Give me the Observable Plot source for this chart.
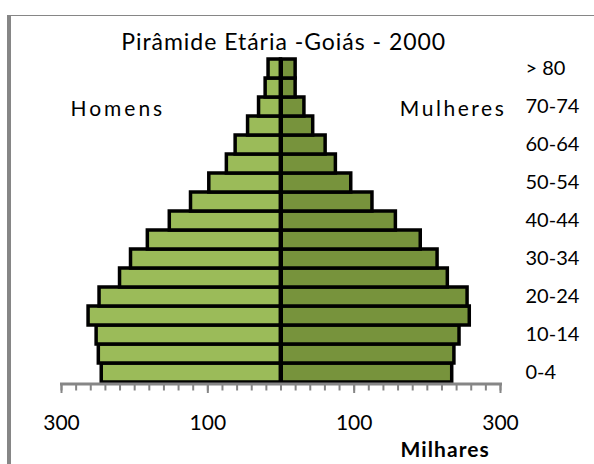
<!DOCTYPE html>
<html><head><meta charset="utf-8">
<script src="https://cdn.jsdelivr.net/npm/d3@7"></script>
<script src="https://cdn.jsdelivr.net/npm/@observablehq/plot@0.6"></script>
<style>
html,body{margin:0;padding:0;background:#fff;}
#wrap{position:relative;width:594px;height:464px;overflow:hidden;background:#fff;}
#wrap svg{position:absolute;left:0;top:0;}
.frameTop{position:absolute;left:7px;top:15px;width:587px;height:1px;background:#868686;}
.frameLeft{position:absolute;left:7px;top:15px;width:4px;height:449px;background:#868686;}
</style></head>
<body><div id="wrap"><div class="frameTop"></div><div class="frameLeft"></div></div>
<script>
const ages = ["0-4","5-9","10-14","15-19","20-24","25-29","30-34","35-39","40-44","45-49","50-54","55-59","60-64","65-69","70-74","75-79","> 80"];
const homens = [245, 249, 252, 263, 248, 220, 205, 182, 152, 123, 98, 74, 62, 45, 30, 21, 17];
const mulheres = [234, 237, 244, 258, 255, 228, 214, 191, 157, 125, 96, 75, 61, 44, 32, 20, 20];
const ageTickLabels = ["0-4","10-14","20-24","30-34","40-44","50-54","60-64","70-74","> 80"];
const xMinorTicks = d3.range(-300, 301, 20);
const xMajorTicks = [-300, -100, 100, 300];
const title = "Pirâmide Etária -Goiás - 2000";
const leftLabel = "Homens";
const rightLabel = "Mulheres";
const unitLabel = "Milhares";

const men = ages.map((age, i) => ({age, value: homens[i]}));
const women = ages.map((age, i) => ({age, value: mulheres[i]}));
const font = "Lato, 'Open Sans', sans-serif";
const gray = "#868686";

const chart = Plot.plot({
  width: 594, height: 464,
  marginLeft: 61, marginRight: 94, marginTop: 58, marginBottom: 80.5,
  style: {fontFamily: font, background: "transparent", overflow: "visible"},
  x: {domain: [-300, 300]},
  y: {domain: ages.slice().reverse(), padding: 0},
  marks: [
    Plot.barX(men, {x: d => -d.value, y: "age", fill: "#9BBB59", stroke: "#000", strokeWidth: 3.5}),
    Plot.barX(women, {x: "value", y: "age", fill: "#77933C", stroke: "#000", strokeWidth: 3.5}),
    Plot.ruleX([0], {stroke: "#000", strokeWidth: 4}),
    Plot.axisX(xMinorTicks, {tickSize: 7, stroke: gray, strokeWidth: 2, fill: "none", label: null}),
    Plot.axisX(xMajorTicks, {tickSize: 9.5, tickPadding: 21.4, stroke: gray, strokeWidth: 2, fill: "#000", fontSize: 21, tickFormat: d => Math.abs(d), label: null}),
    Plot.frame({anchor: "bottom", stroke: gray, strokeWidth: 3}),
    Plot.axisY(ageTickLabels, {anchor: "right", tickSize: 0, tickPadding: 25, fontSize: 20, fill: "#000", label: null}),
    Plot.text([title], {frameAnchor: "top-left", dx: 59.7, dy: -25.3, textAnchor: "start", lineAnchor: "top", fontSize: 23, fill: "#000"}),
    Plot.text([leftLabel], {frameAnchor: "top-left", dx: 9, dy: 42.1, textAnchor: "start", lineAnchor: "top", fontSize: 21, fill: "#000"}),
    Plot.text([rightLabel], {frameAnchor: "top-left", dx: 338.3, dy: 42.1, textAnchor: "start", lineAnchor: "top", fontSize: 21, fill: "#000"}),
    Plot.text([unitLabel], {frameAnchor: "bottom-left", dx: 339, dy: 58.3, textAnchor: "start", lineAnchor: "top", fontSize: 21, fontWeight: "bold", fill: "#000"})
  ]
});

const lengths = {};
lengths[title] = 324;
lengths[leftLabel] = 91.7;
lengths[rightLabel] = 104;
lengths[unitLabel] = 88.3;
chart.querySelectorAll("text").forEach(t => {
  const s = t.textContent;
  if (lengths[s] !== undefined) {
    t.setAttribute("textLength", lengths[s]);
    t.setAttribute("lengthAdjust", "spacing");
  }
});
document.getElementById("wrap").prepend(chart);
</script>
</body></html>
